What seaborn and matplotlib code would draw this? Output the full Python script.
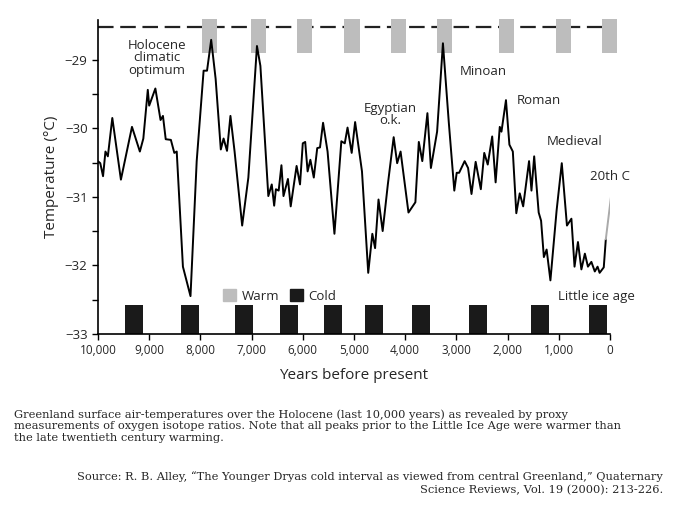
import matplotlib
matplotlib.use("Agg")
import matplotlib.pyplot as plt
import matplotlib.patches as mpatches
import numpy as np
import pandas as pd
import seaborn as sns

# Greenland temperature record (years before present, deg C)
years = [10000, 9954, 9900, 9853, 9806, 9719, 9551, 9335, 9181, 9113, 9026, 8999, 8878, 8777,
         8730, 8676, 8575, 8508, 8461, 8340, 8192, 8071, 7936, 7869, 7788, 7701, 7600, 7546,
         7479, 7412, 7331, 7183, 7062, 6894, 6827, 6672, 6605, 6558, 6524, 6470, 6416, 6376,
         6289, 6235, 6120, 6053, 5999, 5952, 5905, 5851, 5784, 5717, 5663, 5603, 5515, 5381,
         5246, 5179, 5125, 5044, 4977, 4843, 4721, 4641, 4587, 4520, 4439, 4338, 4224, 4156,
         4089, 3935, 3800, 3733, 3665, 3565, 3497, 3376, 3262, 3148, 3040, 2993, 2946, 2838,
         2771, 2704, 2623, 2522, 2455, 2387, 2300, 2233, 2152, 2119, 2031, 1964, 1897, 1829,
         1762, 1695, 1580, 1533, 1480, 1392, 1345, 1291, 1237, 1163, 1042, 941, 840, 753,
         692, 625, 558, 490, 430, 363, 296, 242, 202, 121, 81]
temps = [-30.48, -30.51, -30.70, -30.34, -30.41, -29.85, -30.75, -29.98, -30.34, -30.15, -29.44,
         -29.67, -29.42, -29.88, -29.82, -30.16, -30.17, -30.36, -30.34, -32.02, -32.45, -30.48,
         -29.16, -29.16, -28.71, -29.28, -30.31, -30.15, -30.33, -29.82, -30.34, -31.42, -30.72,
         -28.80, -29.09, -30.99, -30.82, -31.13, -30.89, -30.91, -30.54, -30.99, -30.74, -31.14,
         -30.55, -30.82, -30.22, -30.20, -30.63, -30.46, -30.72, -30.29, -30.28, -29.92, -30.34,
         -31.54, -30.19, -30.22, -29.99, -30.36, -29.91, -30.63, -32.11, -31.54, -31.75, -31.04,
         -31.50, -30.82, -30.13, -30.51, -30.34, -31.23, -31.08, -30.20, -30.48, -29.78, -30.58,
         -30.05, -28.76, -29.91, -30.91, -30.65, -30.65, -30.48, -30.58, -30.96, -30.49, -30.89,
         -30.36, -30.53, -30.12, -30.79, -29.98, -30.05, -29.59, -30.24, -30.34, -31.24, -30.95,
         -31.14, -30.48, -30.91, -30.41, -31.23, -31.35, -31.88, -31.77, -32.22, -31.20, -30.51,
         -31.42, -31.32, -32.02, -31.66, -32.06, -31.83, -32.02, -31.95, -32.09, -32.02, -32.11,
         -32.03, -31.62]
# 20th century segment (grey)
modern_years = [81, -30]
modern_temps = [-31.62, -30.94]

warm_centers = [7815, 6860, 5972, 5038, 4130, 3228, 2018, 908, 13]
cold_centers = [9295, 8205, 7143, 6262, 5407, 4600, 3686, 2569, 1358, 235]

labels = [("Holocene\nclimatic\noptimum", 8848, -28.97),
          ("Minoan", 2480, -29.17),
          ("Egyptian\no.k.", 4297, -29.8),
          ("Roman", 1387, -29.6),
          ("Medieval", 684, -30.2),
          ("20th C", 0, -30.7),
          ("Little ice age", 273, -32.45)]

caption = ("Greenland surface air-temperatures over the Holocene (last 10,000 years) as revealed by proxy\n"
           "measurements of oxygen isotope ratios. Note that all peaks prior to the Little Ice Age were warmer than\n"
           "the late twentieth century warming.")

sns.set_theme(style="ticks")
plt.rcParams['font.family'] = ['Open Sans', 'DejaVu Sans']

fig = plt.figure(figsize=(6.8, 5.12), dpi=100)
ax = fig.add_axes([0.144, 0.348, 0.753, 0.613])

df = pd.DataFrame({"year": years, "temp": temps})
sns.lineplot(data=df, x="year", y="temp", ax=ax, color="black", lw=1.4, sort=False)
ax.plot(modern_years, modern_temps, color="#aaaaaa", lw=1.4)

for c in warm_centers:
    ax.add_patch(mpatches.Rectangle((c - 148, -28.90), 296, 0.49, color="#bdbdbd", lw=0, clip_on=False, zorder=1))
for c in cold_centers:
    ax.add_patch(mpatches.Rectangle((c - 175, -33), 350, 0.42, color="#1a1a1a", lw=0, zorder=1))
ax.axhline(-28.52, color="#222222", lw=1.6, dashes=(7, 3), zorder=0)

for txt, x, y in labels:
    ax.text(x, y, txt, ha="center", va="center", fontsize=9.5, linespacing=0.95)

handles = [mpatches.Patch(color="#bdbdbd", label="Warm"), mpatches.Patch(color="#1a1a1a", label="Cold")]
ax.legend(handles=handles, ncol=2, frameon=False, loc="center", bbox_to_anchor=(0.355, 0.12),
          fontsize=9.5, handlelength=1.0, handleheight=1.0, columnspacing=0.8, handletextpad=0.4)

ax.set_xlim(10000, 0)
ax.set_ylim(-33, -28.42)
ax.set_xticks(np.arange(10000, -1, -1000))
ax.set_xticklabels([f"{v:,}" for v in range(10000, -1, -1000)], fontsize=8.5)
ax.set_yticks([-33, -32, -31, -30, -29])
ax.set_yticks(np.arange(-33, -28.6, 0.5), minor=True)
ax.tick_params(axis="y", labelsize=9.5)
ax.tick_params(which="both", direction="out", length=4, width=1, color="black")
for s in ["top", "right"]:
    ax.spines[s].set_visible(False)
for s in ["left", "bottom"]:
    ax.spines[s].set_color("black")
    ax.spines[s].set_linewidth(1.2)
ax.set_xlabel("Years before present", fontsize=11, labelpad=8)
ax.set_ylabel("Temperature (°C)", fontsize=11)

fig.text(0.02, 0.168, caption, ha="left", va="center", fontsize=8.2,
         family=["DejaVu Serif"], linespacing=1.2)
fig.text(0.975, 0.056, "Source: R. B. Alley, \u201cThe Younger Dryas cold interval as viewed from central Greenland,\u201d Quaternary\n"
         "Science Reviews, Vol. 19 (2000): 213-226.", ha="right", va="center", fontsize=8.2,
         family=["DejaVu Serif"], linespacing=1.4, multialignment="right")

fig.savefig("out.png", dpi=100)
